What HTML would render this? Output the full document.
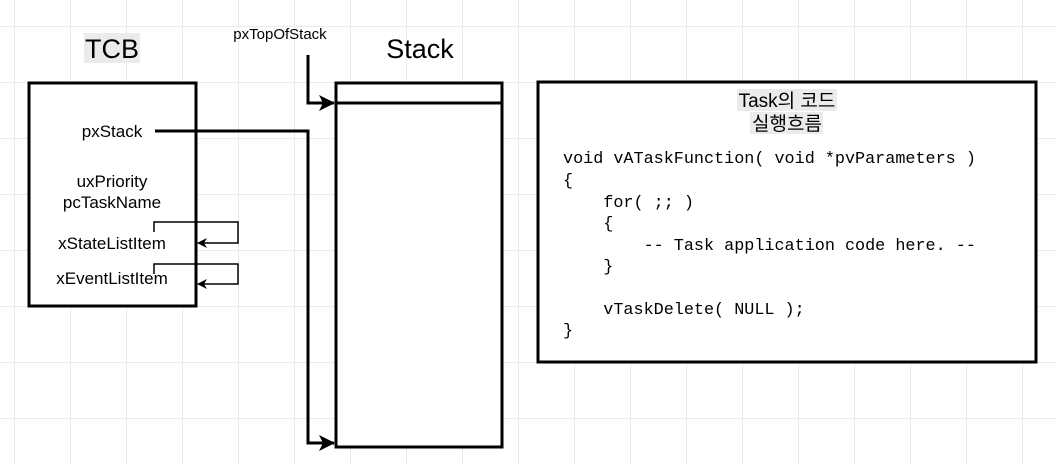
<!DOCTYPE html>
<html><head><meta charset="utf-8"><style>
body{margin:0;width:1057px;height:465px;overflow:hidden;background:#fff;
background-image:linear-gradient(#ebebeb 1px,transparent 1px),linear-gradient(90deg,#ebebeb 1px,transparent 1px);
background-size:56px 56px;background-position:14px 26px;font-family:"Liberation Sans","Noto Sans CJK KR",sans-serif;}
.pre{white-space:pre}
</style></head><body>
<svg width="1057" height="465" style="position:absolute;left:0;top:0" font-family="Liberation Sans, Noto Sans CJK KR, sans-serif">
<defs>
<marker id="a" markerWidth="10" markerHeight="10" refX="9" refY="5" orient="auto" markerUnits="userSpaceOnUse"><path d="M0,0 L10,5 L0,10 L3,5z" fill="#000"/></marker>
<marker id="b" markerWidth="16" markerHeight="16" refX="15" refY="8" orient="auto" markerUnits="userSpaceOnUse"><path d="M0,0 L16,8 L0,16 L4,8z" fill="#000"/></marker>
</defs>
<rect x="84" y="33" width="56" height="30" fill="#ebebeb"/>
<text x="112" y="58" font-size="27" text-anchor="middle">TCB</text>
<text x="420" y="58" font-size="27" text-anchor="middle">Stack</text>
<text x="280" y="39" font-size="15" text-anchor="middle">pxTopOfStack</text>
<rect x="29" y="83" width="167" height="223" fill="#fff" stroke="#000" stroke-width="3"/>
<rect x="336" y="83" width="166" height="364" fill="#fff" stroke="#000" stroke-width="3"/>
<line x1="336" y1="103" x2="502" y2="103" stroke="#000" stroke-width="3"/>
<rect x="538" y="82" width="498" height="280" fill="#fff" stroke="#000" stroke-width="3"/>
<text x="112" y="137" font-size="17" text-anchor="middle">pxStack</text>
<text x="112" y="187" font-size="17" text-anchor="middle">uxPriority</text>
<text x="112" y="208" font-size="17" text-anchor="middle">pcTaskName</text>
<text x="112" y="249" font-size="17" text-anchor="middle">xStateListItem</text>
<text x="112" y="284" font-size="17" text-anchor="middle">xEventListItem</text>
<path d="M155,131 H308 V443 H334" fill="none" stroke="#000" stroke-width="3" marker-end="url(#b)"/>
<path d="M308,55 V103 H334" fill="none" stroke="#000" stroke-width="3" marker-end="url(#b)"/>
<path d="M154,232 V222 H238 V243 H198" fill="none" stroke="#000" stroke-width="1.5" marker-end="url(#a)"/>
<path d="M154,274 V264 H238 V284 H198" fill="none" stroke="#000" stroke-width="1.5" marker-end="url(#a)"/>
<rect x="737" y="89" width="100" height="22" fill="#ebebeb"/>
<rect x="750" y="112" width="73" height="22" fill="#ebebeb"/>
<text x="787" y="107" font-size="19" text-anchor="middle">Task의 코드</text>
<text x="787" y="130" font-size="19" text-anchor="middle">실행흐름</text>
<g font-family="Liberation Mono, monospace" font-size="16.8" class="pre">
<text x="563" y="163" class="pre">void vATaskFunction( void *pvParameters )</text>
<text x="563" y="185" class="pre">{</text>
<text x="563" y="207" class="pre">    for( ;; )</text>
<text x="563" y="228" class="pre">    {</text>
<text x="563" y="250" class="pre">        -- Task application code here. --</text>
<text x="563" y="271" class="pre">    }</text>
<text x="563" y="314" class="pre">    vTaskDelete( NULL );</text>
<text x="563" y="335" class="pre">}</text>
</g>
</svg>
</body></html>
